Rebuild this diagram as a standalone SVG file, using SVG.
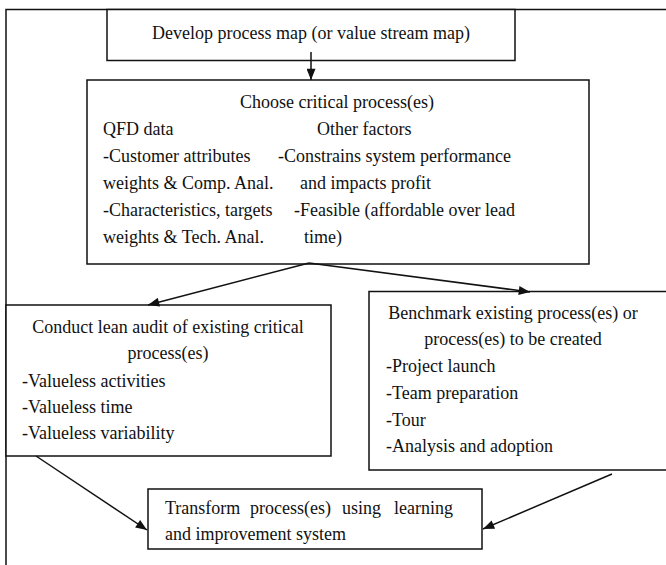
<svg xmlns="http://www.w3.org/2000/svg" width="666" height="565" viewBox="0 0 666 565">
<style>
.t{font-family:'Liberation Serif','Times New Roman',serif;font-size:18px;fill:#111}
.c{text-anchor:middle}
.b{fill:#fff;stroke:#111;stroke-width:1.5}
.l{fill:none;stroke:#111;stroke-width:1.5}
</style>
<defs>
<marker id="ah" viewBox="0 0 10 8" refX="10" refY="4" markerWidth="12" markerHeight="9" markerUnits="userSpaceOnUse" orient="auto">
<path d="M0,0 L10,4 L0,8 Z" fill="#111"/>
</marker>
</defs>
<rect width="666" height="565" fill="#fff"/>
<g id="frame">
<path class="l" d="M6,566 V9.5 H667"/>
</g>
<g id="n1">
<rect class="b" x="107" y="9.5" width="408" height="51"/>
<text class="t c" x="311" y="39">Develop process map (or value stream map)</text>
</g>
<g id="n2">
<rect class="b" x="87" y="80" width="502" height="184"/>
<text class="t c" x="337" y="108">Choose critical process(es)</text>
<text class="t" x="103" y="135">QFD data</text>
<text class="t" x="317" y="135">Other factors</text>
<text class="t" x="103" y="162">-Customer attributes</text>
<text class="t" x="278" y="162">-Constrains system performance</text>
<text class="t" x="103" y="189">weights &amp; Comp. Anal.</text>
<text class="t" x="300" y="189">and impacts profit</text>
<text class="t" x="103" y="216">-Characteristics, targets</text>
<text class="t" x="294" y="216">-Feasible (affordable over lead</text>
<text class="t" x="103" y="243">weights &amp; Tech. Anal.</text>
<text class="t" x="304" y="243">time)</text>
</g>
<g id="n3">
<rect class="b" x="6" y="305" width="325" height="151"/>
<text class="t c" x="168" y="333">Conduct lean audit of existing critical</text>
<text class="t c" x="168" y="359">process(es)</text>
<text class="t" x="22" y="387">-Valueless activities</text>
<text class="t" x="22" y="413">-Valueless time</text>
<text class="t" x="22" y="439">-Valueless variability</text>
</g>
<g id="n4">
<path class="b" d="M668,291.5 H369 V470 H668"/>
<text class="t c" x="513" y="319">Benchmark existing process(es) or</text>
<text class="t c" x="513" y="345">process(es) to be created</text>
<text class="t" x="386" y="372">-Project launch</text>
<text class="t" x="386" y="399">-Team preparation</text>
<text class="t" x="386" y="426">-Tour</text>
<text class="t" x="386" y="452">-Analysis and adoption</text>
</g>
<g id="n5">
<rect class="b" x="148" y="489" width="334" height="60"/>
<text class="t" x="165" y="514">Transform</text>
<text class="t" x="250" y="514">process(es)</text>
<text class="t" x="342" y="514">using</text>
<text class="t" x="453" y="514" text-anchor="end">learning</text>
<text class="t" x="165" y="540">and improvement system</text>
</g>
<g id="connectors">
<path class="l" d="M311,52 V80" marker-end="url(#ah)"/>
<path class="l" d="M309,263 L148,305" marker-end="url(#ah)"/>
<path class="l" d="M309,263 L530,292" marker-end="url(#ah)"/>
<path class="l" d="M36,456 L147,530" marker-end="url(#ah)"/>
<path class="l" d="M612,474 L483,529" marker-end="url(#ah)"/>
</g>
</svg>
